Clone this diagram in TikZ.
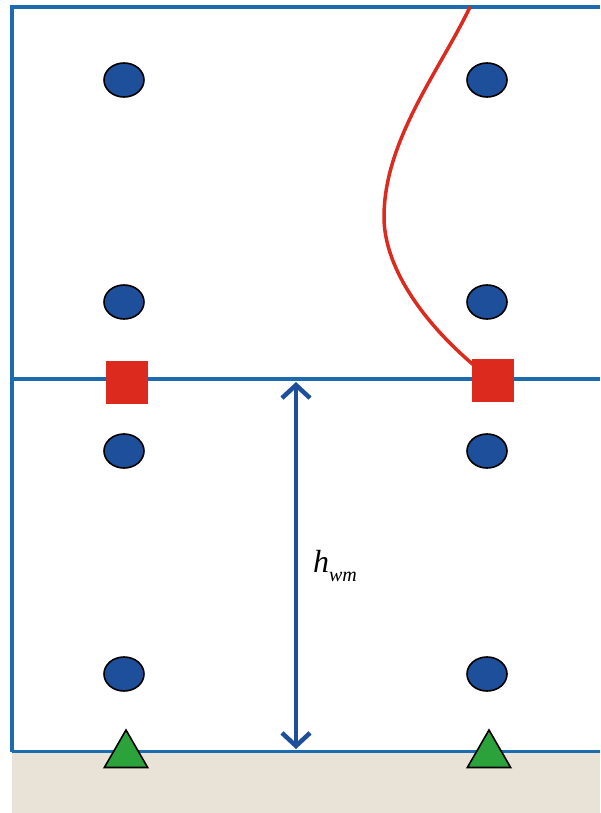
\documentclass[tikz,border=0pt]{standalone}
\usepackage{fontspec}
\setmainfont{Liberation Serif}
\usetikzlibrary{shapes.geometric,arrows.meta}
\definecolor{frameblue}{HTML}{1B6BAE}
\definecolor{dotblue}{HTML}{1D4F9B}
\definecolor{sqred}{HTML}{DC2A1E}
\definecolor{trigreen}{HTML}{2BA33A}
\definecolor{ground}{HTML}{E8E3D6}
\definecolor{arrowblue}{HTML}{1D4F9B}
\tikzset{
  frame/.style={draw=frameblue, line width=4pt},
  dot/.style={ellipse, draw=black, line width=1.6pt, fill=dotblue, minimum width=40pt, minimum height=34pt, inner sep=0pt},
  sensor/.style={rectangle, fill=sqred, minimum width=42pt, minimum height=43pt, inner sep=0pt},
  support/.style={regular polygon, regular polygon sides=3, draw=black, line width=1.6pt, fill=trigreen, minimum size=50pt, inner sep=0pt},
  dim/.style={draw=arrowblue, line width=4.5pt, {Straight Barb[length=13pt,width=28pt]}-{Straight Barb[length=13pt,width=28pt]}},
  curve/.style={draw=sqred, line width=3.5pt}
}
\begin{document}
\begin{tikzpicture}[x=1pt,y=-1pt]
\useasboundingbox (0,0) rectangle (600,813);
% ground
\fill[ground] (12,752) rectangle (600,813);
% frame
\draw[frame] (600,7) -- (12,7) -- (12,752);
\draw[frame] (12,379) -- (600,379);
\draw[draw=frameblue, line width=3pt] (12,751) -- (600,751);
% dots
\node[dot] (d1) at (124,80) {};
\node[dot] (d2) at (124,302) {};
\node[dot] (d3) at (124,451) {};
\node[dot] (d4) at (124,674) {};
\node[dot] (d5) at (487,80) {};
\node[dot] (d6) at (487,302) {};
\node[dot] (d7) at (487,451) {};
\node[dot] (d8) at (487,674) {};
% triangles
\node[support] (t1) at (126,755) {};
\node[support] (t2) at (489,755) {};
% red curve
\coordinate (ctop) at (470,7);
\coordinate (cmid) at (384,217);
\coordinate (cend) at (476,367);
\draw[curve] (ctop) .. controls (440,70) and (384,140) .. (cmid)
  .. controls (384,265) and (420,320) .. (cend);
% squares
\node[sensor] (s1) at (127,382) {};
\node[sensor] (s2) at (493,380) {};
% dimension arrow
\coordinate (atop) at (296,382);
\coordinate (abot) at (296,749);
\draw[dim] (atop) -- (abot);
\node (lbl) at (335,566) {\fontsize{32}{34}\selectfont\itshape h\raisebox{-0.28em}{\fontsize{20}{22}\selectfont wm}};
\end{tikzpicture}
\end{document}
